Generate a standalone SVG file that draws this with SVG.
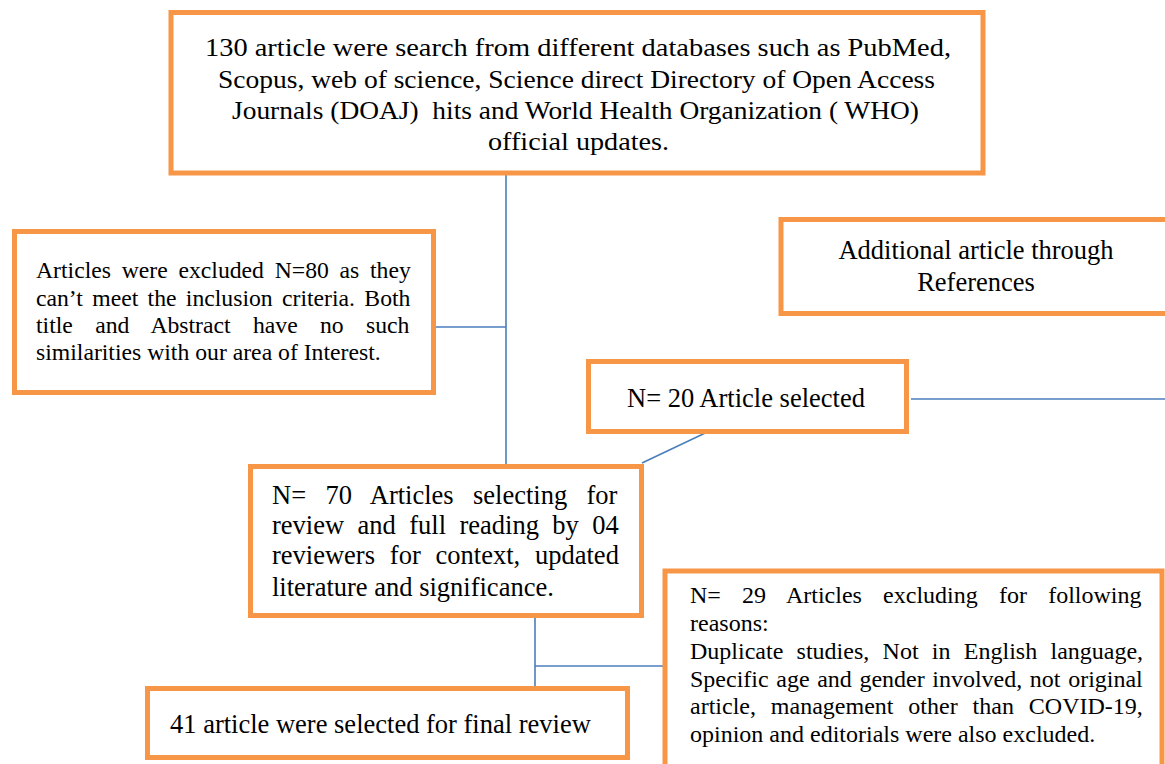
<svg xmlns="http://www.w3.org/2000/svg" width="1165" height="764" viewBox="0 0 1165 764">
<style>
.box{fill:#fff;stroke:#F79646;stroke-width:5}
.ln{stroke:#4A7EBB;stroke-width:1.6;fill:none}
.tt{font-family:"Liberation Serif","Times New Roman",serif;fill:#000}
.cam{font-family:"Liberation Serif","Times New Roman",serif;font-size:26px;fill:#000}
.s237{font-size:23.7px}
.s24{font-size:24px}
.s265{font-size:26.5px}
</style>
<rect x="0" y="0" width="1165" height="764" fill="#fff"/>
<g id="connectors">
<line class="ln" x1="506" y1="175" x2="506" y2="464"/>
<line class="ln" x1="392" y1="327" x2="506" y2="327"/>
<line class="ln" x1="911" y1="399" x2="1165" y2="399"/>
<line class="ln" x1="760" y1="407" x2="642" y2="463"/>
<line class="ln" x1="535" y1="618" x2="535" y2="686"/>
<line class="ln" x1="535" y1="666" x2="663" y2="666"/>
</g>
<g id="search">
<rect class="box" x="171" y="12.5" width="812" height="160.5"/>
<text class="cam" x="205" y="56" textLength="746" lengthAdjust="spacingAndGlyphs">130 article were search from different databases such as PubMed,</text>
<text class="cam" x="218" y="88" textLength="717" lengthAdjust="spacingAndGlyphs">Scopus, web of science, Science direct Directory of Open Access</text>
<text class="cam" x="232" y="119" textLength="687" lengthAdjust="spacingAndGlyphs" style="white-space:pre">Journals (DOAJ)  hits and World Health Organization ( WHO)</text>
<text class="cam" x="488" y="150" textLength="181" lengthAdjust="spacingAndGlyphs">official updates.</text>
</g>
<g id="excluded80">
<rect class="box" x="14.5" y="231.5" width="419" height="161"/>
<text class="tt s237" x="36" y="278" style="word-spacing:4.8px">Articles were excluded N=80 as they</text>
<text class="tt s237" x="36" y="306" style="word-spacing:3.4px">can’t meet the inclusion criteria. Both</text>
<text class="tt s237" x="36" y="333" style="word-spacing:16.4px">title and Abstract have no such</text>
<text class="tt s237" x="36" y="360">similarities with our area of Interest.</text>
</g>
<g id="additional">
<rect class="box" x="781" y="219.5" width="420" height="94"/>
<text class="tt s265" x="976" y="259" text-anchor="middle">Additional article through</text>
<text class="tt s265" x="976" y="291" text-anchor="middle">References</text>
</g>
<g id="selected20">
<rect class="box" x="588.5" y="361.5" width="318" height="70"/>
<text class="tt s265" x="627" y="407">N= 20 Article selected</text>
</g>
<g id="selected70">
<rect class="box" x="250.5" y="466.5" width="391" height="149"/>
<text class="tt s265" x="272" y="504" style="word-spacing:12.7px">N= 70 Articles selecting for</text>
<text class="tt s265" x="272" y="534" style="word-spacing:6.8px">review and full reading by 04</text>
<text class="tt s265" x="272" y="564" style="word-spacing:8.2px">reviewers for context, updated</text>
<text class="tt s265" x="272" y="596">literature and significance.</text>
</g>
<g id="excluded29">
<rect class="box" x="665" y="571" width="497" height="220"/>
<text class="tt s24" x="690" y="603" style="word-spacing:15.2px">N= 29 Articles excluding for following</text>
<text class="tt s24" x="690" y="631">reasons:</text>
<text class="tt s24" x="690" y="659" style="word-spacing:7.3px">Duplicate studies, Not in English language,</text>
<text class="tt s24" x="690" y="687" style="word-spacing:1.6px">Specific age and gender involved, not original</text>
<text class="tt s24" x="690" y="714" style="word-spacing:8.9px">article, management other than COVID-19,</text>
<text class="tt s24" x="690" y="742">opinion and editorials were also excluded.</text>
</g>
<g id="final41">
<rect class="box" x="147.5" y="688.5" width="480" height="69"/>
<text class="tt s265" x="170" y="733">41 article were selected for final review</text>
</g>
</svg>
